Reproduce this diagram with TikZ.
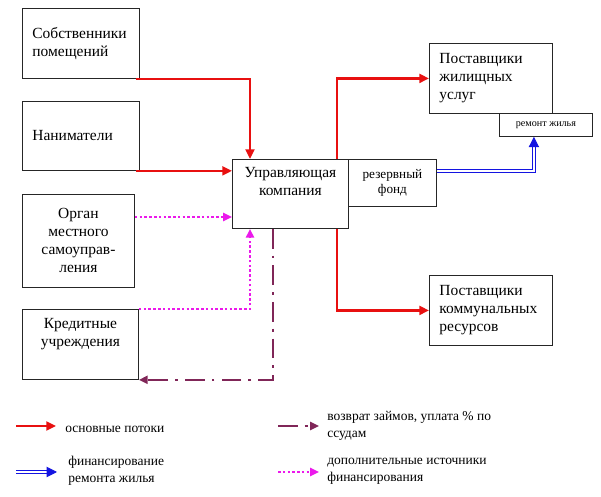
\documentclass[tikz,border=0pt]{standalone}
\usepackage{fontspec}
\setmainfont{Liberation Serif}
\usetikzlibrary{arrows.meta, positioning}

\definecolor{flowred}{RGB}{232,16,16}
\definecolor{repairblue}{RGB}{20,20,225}
\definecolor{loanplum}{RGB}{128,38,88}
\definecolor{extramag}{RGB}{235,25,235}

\begin{document}
\begin{tikzpicture}[
    x=0.025cm, y=-0.025cm,
    box/.style={rectangle, draw=black!85, line width=0.6pt, anchor=north west, inner sep=0pt, font=\fontsize{11}{12.8}\selectfont},
    leftbox/.style={box, align=left, inner xsep=0.25cm},
    boxtext/.style={font=\fontsize{11}{12.8}\selectfont, align=center, anchor=north, inner sep=0pt},
    legtext/.style={anchor=west, align=left, inner sep=0pt, font=\fontsize{9.6}{12}\selectfont},
    mainflow/.style={-{Triangle[length=2.4mm,width=2.2mm]}, flowred, line width=1.9pt},
    repairflow/.style={-{Triangle[length=2.6mm,width=2.6mm]}, draw=repairblue, double=white, double distance=1.1pt, line width=0.7pt},
    loanflow/.style={-{Triangle[length=2.2mm,width=2mm]}, loanplum, line width=1.8pt, dash pattern=on 14pt off 5pt on 2pt off 5pt},
    extraflow/.style={-{Triangle[length=2.2mm,width=2mm]}, extramag, line width=1.8pt, dash pattern=on 1.8pt off 1.6pt}
]
\useasboundingbox (0,0) rectangle (601,497);

% участники слева
\node[leftbox, minimum width=2.925cm, minimum height=1.75cm, text width=2.425cm] (owners) at (22,8) {Собственники\\помещений};
\node[leftbox, minimum width=2.925cm, minimum height=1.725cm, text width=2.425cm] (tenants) at (22,101) {Наниматели};
\node[box, minimum width=2.8cm, minimum height=2.325cm, align=center] (gov) at (22,194) {Орган\\местного\\самоуправ-\\ления};
\node[box, minimum width=2.9cm, minimum height=1.75cm,
      label={[boxtext, name=banktxt, yshift=-0.22cm]north:Кредитные\\учреждения}] (bank) at (22,309) {};

% управляющая компания
\node[box, minimum width=2.9cm, minimum height=1.725cm,
      label={[boxtext, name=uktxt, yshift=-0.19cm]north:Управляющая\\компания}] (uk) at (232,159) {};
\node[box, minimum width=2.2cm, minimum height=1.175cm, align=center, font=\fontsize{9.4}{11}\selectfont] (fund) at (348,159) {резервный\\фонд};

% поставщики
\node[leftbox, minimum width=3.075cm, minimum height=1.75cm, text width=2.575cm] (housing) at (429,43) {Поставщики\\жилищных\\услуг};
\node[box, minimum width=2.325cm, minimum height=0.575cm, font=\fontsize{7.2}{8}\selectfont] (repair) at (499,113) {ремонт жилья};
\node[leftbox, minimum width=3.075cm, minimum height=1.75cm, text width=2.575cm] (utility) at (429,275) {Поставщики\\коммунальных\\ресурсов};

% потоки
\draw[mainflow] ([xshift=-0.1cm]owners.south east) -| ([xshift=0.45cm]uk.north west);
\draw[mainflow] ([xshift=-0.1cm]tenants.south east) -- (tenants.south east -| uk.west);
\draw[mainflow] ([xshift=-0.3cm]uk.north east) |- (housing.west);
\draw[mainflow] ([xshift=-0.3cm]uk.south east) |- (utility.west);
\draw[repairflow] ([yshift=-0.3cm]fund.north east) -| ([xshift=-0.3cm]repair.south);
\draw[extraflow] ([yshift=-0.575cm]gov.north east) -- ([yshift=-0.575cm]gov.north east -| uk.west);
\draw[extraflow] (bank.north east) -| ([xshift=0.45cm]uk.south west);
\draw[loanflow] ([xshift=1.025cm]uk.south west) |- (bank.south east);

% легенда
\coordinate (lg1a) at (16,426);  \coordinate (lg1b) at (56,426);
\coordinate (lg2a) at (16,472);  \coordinate (lg2b) at (57,472);
\coordinate (lg3a) at (278,426); \coordinate (lg3b) at (319,426);
\coordinate (lg4a) at (278,472); \coordinate (lg4b) at (319,472);
\node[legtext] (lg1t) at (65,429) {основные потоки};
\node[legtext] (lg2t) at (68,471) {финансирование\\ремонта жилья};
\node[legtext] (lg3t) at (327,426) {возврат займов, уплата \% по\\ссудам};
\node[legtext] (lg4t) at (327,471) {дополнительные источники\\финансирования};
\draw[mainflow] (lg1a) -- (lg1b);
\draw[repairflow] (lg2a) -- (lg2b);
\draw[loanflow] (lg3a) -- (lg3b);
\draw[extraflow] (lg4a) -- (lg4b);

\end{tikzpicture}
\end{document}
